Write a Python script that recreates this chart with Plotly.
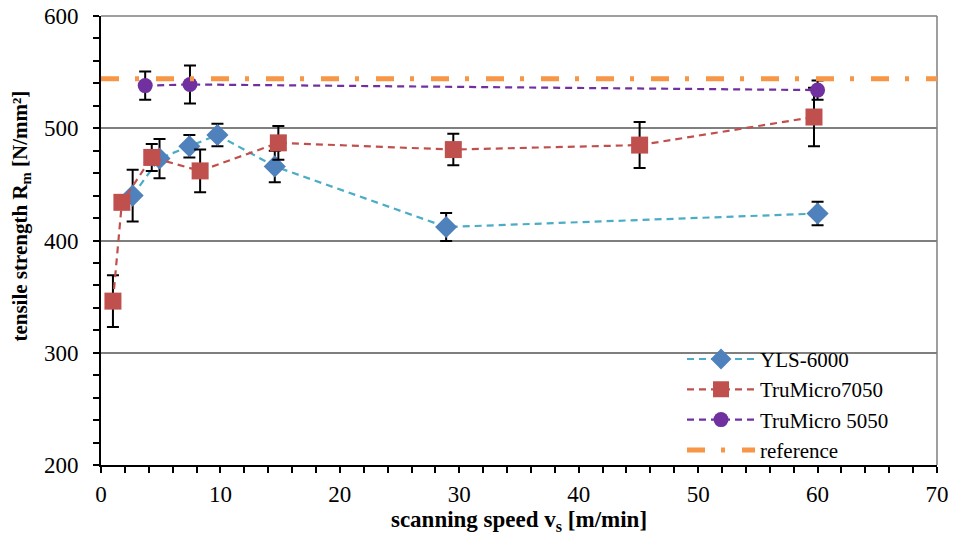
import plotly.graph_objects as go

# ---- data ----
yls_x = [2.65, 4.9, 7.4, 9.75, 14.55, 28.9, 60.0]
yls_y = [440, 473, 484, 494, 466, 412, 424]
yls_err = [23, 17.5, 10, 10, 14, 12.5, 10.5]

tm7050_x = [1.0, 1.75, 4.25, 8.3, 14.85, 29.5, 45.1, 59.7]
tm7050_y = [346, 434, 474, 462, 487, 481, 485, 510]
tm7050_err = [23, 4, 12, 19, 15, 14, 20.5, 26]

tm5050_x = [3.7, 7.45, 60.0]
tm5050_y = [538, 539, 534]
tm5050_err = [12.5, 17, 8.5]

ref_x = [0, 70]
ref_y = [544, 544]

x_title = "<b>scanning speed v<sub>s</sub> [m/min]</b>"
y_title = "<b>tensile strength R<sub>m</sub> [N/mm²]</b>"

FONT = "'Liberation Serif', 'Times New Roman', Times, serif"
FS = 23

fig = go.Figure()

def add_series(x, y, err, name, lcolor, mcolor, symbol, size):
    fig.add_trace(go.Scatter(
        x=x, y=y, mode="lines+markers", name=name,
        line=dict(color=lcolor, width=2.2, dash="7px,5px"),
        marker=dict(color=mcolor, symbol=symbol, size=size),
        error_y=dict(type="data", array=err, visible=True, color="black",
                     thickness=2, width=6),
    ))

add_series(yls_x, yls_y, yls_err, "YLS-6000", "#4BACC6", "#4F81BD", "diamond", 17)
add_series(tm7050_x, tm7050_y, tm7050_err, "TruMicro7050", "#C0504D", "#C0504D", "square", 17)
add_series(tm5050_x, tm5050_y, tm5050_err, "TruMicro 5050", "#7030A0", "#7030A0", "circle", 15)

fig.add_trace(go.Scatter(
    x=ref_x, y=ref_y, mode="lines", name="reference",
    line=dict(color="#F79646", width=5, dash="18px,16px,4px,17px"),
))

# plot-area border on the top and right
fig.add_shape(type="line", xref="paper", yref="paper", x0=1, x1=1, y0=0, y1=1,
              line=dict(color="#7F7F7F", width=1.5), layer="below")
fig.add_shape(type="line", xref="paper", yref="paper", x0=0, x1=1, y0=1, y1=1,
              line=dict(color="#7F7F7F", width=1.5), layer="below")

# y-axis title as rotated annotation (placed slightly above centre, as in the original)
fig.add_annotation(
    text=y_title, xref="paper", yref="paper", x=-0.096, y=0.555,
    xanchor="center", yanchor="middle", textangle=-90, showarrow=False,
    font=dict(family=FONT, size=21, color="black"),
)

fig.update_layout(
    width=953, height=535,
    margin=dict(l=101, r=16, t=16, b=70, autoexpand=False),
    plot_bgcolor="white", paper_bgcolor="white",
    font=dict(family=FONT, size=FS, color="black"),
    showlegend=True,
    legend=dict(
        x=0.695, y=-0.013, xanchor="left", yanchor="bottom",
        bgcolor="rgba(0,0,0,0)", font=dict(family=FONT, size=21),
        traceorder="normal", itemwidth=68, tracegroupgap=0,
    ),
    xaxis=dict(
        range=[0, 70], dtick=10, tick0=0, automargin=False,
        showline=True, linecolor="black", linewidth=2,
        ticks="outside", ticklen=6, tickwidth=1.5, tickcolor="black",
        minor=dict(dtick=2, ticks="outside", ticklen=6, tickwidth=1.5, tickcolor="black"),
        showgrid=False, zeroline=False,
        tickfont=dict(family=FONT, size=FS),
        ticklabelstandoff=1, ticklabeloverflow="allow",
        title=dict(text=x_title, font=dict(family=FONT, size=23), standoff=8),
    ),
    yaxis=dict(
        range=[200, 600], dtick=100, tick0=200, automargin=False,
        showline=True, linecolor="black", linewidth=2,
        ticks="outside", ticklen=6, tickwidth=1.5, tickcolor="black",
        minor=dict(dtick=20, ticks="outside", ticklen=6, tickwidth=1.5, tickcolor="black", showgrid=False),
        showgrid=True, gridcolor="#7F7F7F", gridwidth=1.5,
        zeroline=False,
        tickfont=dict(family=FONT, size=FS),
        ticklabelstandoff=10, ticklabeloverflow="allow",
    ),
)

# remove the default 8px page margin so the figure sits at the window's corner
fig.write_html("out.html", config={"displayModeBar": False},
               post_script="document.body.style.margin='0px';")
